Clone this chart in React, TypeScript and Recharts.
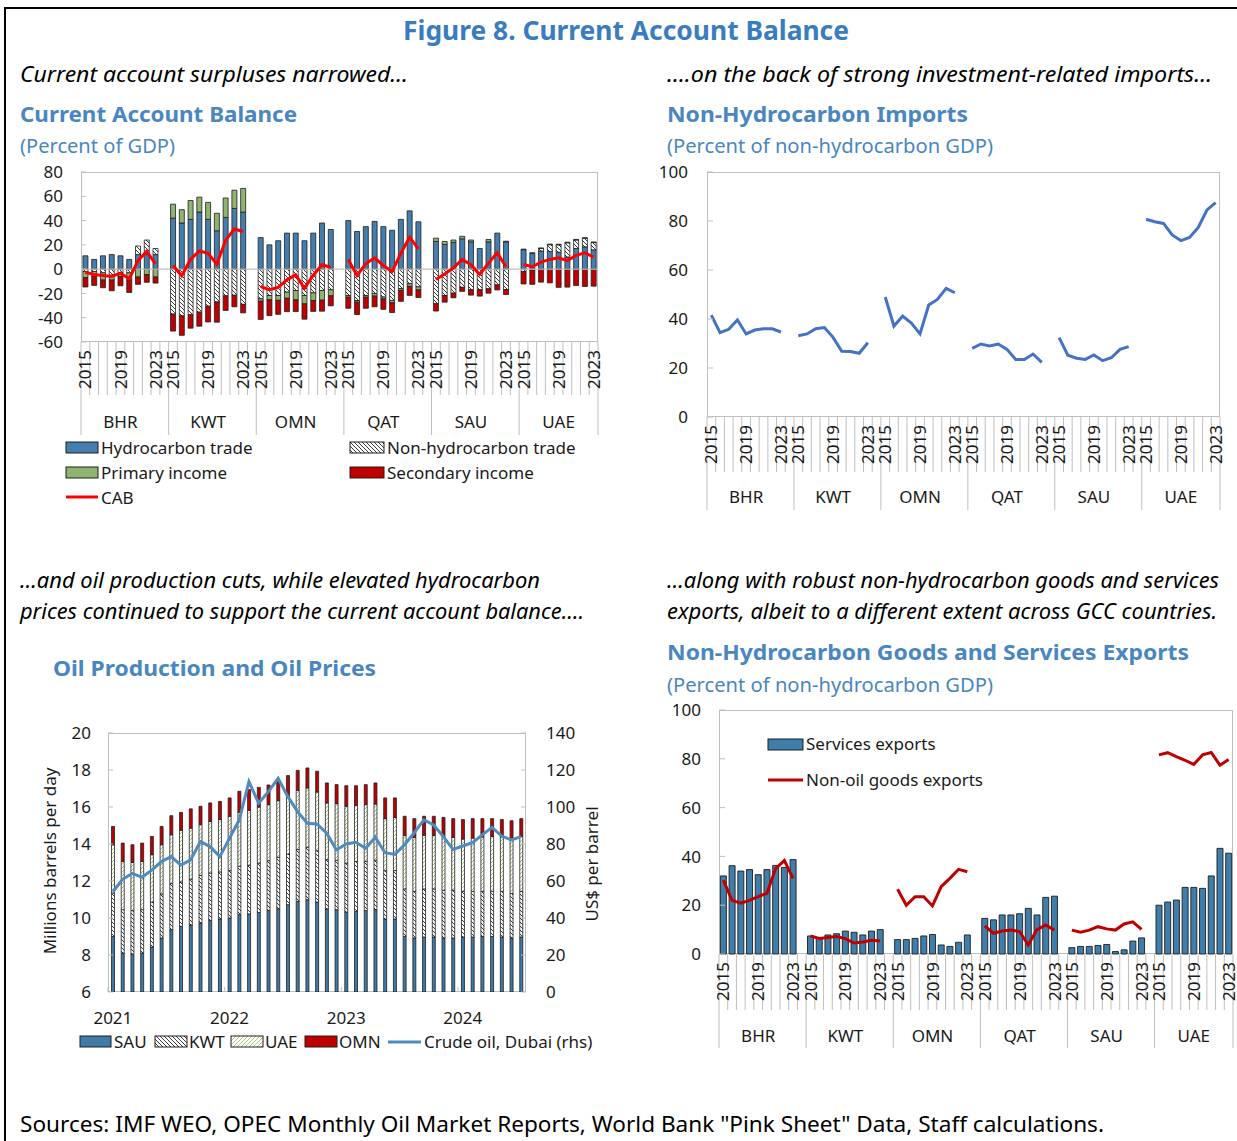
import React from 'react';
import { ComposedChart, Bar, Line, XAxis, YAxis, ReferenceLine } from 'recharts';

const FONT = "'Noto Sans', 'Open Sans', 'DejaVu Sans', sans-serif";
const AXIS_GRAY = '#bfbfbf';
const TEXT = '#1a1a1a';
const TITLE_BLUE = '#3a7cc0';
const PANEL_BLUE = '#4a86c0';

const COUNTRIES = ['BHR', 'KWT', 'OMN', 'QAT', 'SAU', 'UAE'];
const YEARS = [2015, 2016, 2017, 2018, 2019, 2020, 2021, 2022, 2023];
const LABELED_YEARS = [2015, 2019, 2023];

// ---------- Panel 1: Current account balance (percent of GDP), rows = countries, cols = 2015..2023
const hydrocarbonTrade = [
  [11, 8, 11, 12, 11, 8, 12, 12, 12],
  [42, 38, 41, 47, 41, 31.6, 42.6, 50, 47],
  [26, 20, 23.4, 29.7, 29.7, 23.4, 29.7, 38, 32.7],
  [40, 31, 35, 39.3, 35, 32, 41, 48, 39],
  [22.8, 20.3, 22, 25, 22.5, 17, 22.5, 29.7, 22.5],
  [16, 13, 15, 14.6, 14, 10, 17, 18.4, 15.9],
];
const nonHydrocarbonTrade = [
  [-2, -2, -3, -5, -3, -3, 7, 12, 5],
  [-37, -38.5, -37.6, -35.4, -30.5, -27, -22, -21.5, -29],
  [-24.4, -21.7, -21.7, -19, -17.6, -21.7, -19.5, -17.6, -17],
  [-21.7, -25.8, -21.7, -20, -23, -25.8, -16, -12, -14.6],
  [-28.5, -21.7, -19.8, -15, -17, -17, -16.2, -13, -16.8],
  [-2, -1, 2, 5.5, 6, 11.7, 7, 7, 6],
];
const primaryIncome = [
  [-5, -4, -6, -4, -3, -6, -6.5, -4.5, -6.5],
  [11.5, 11, 15.5, 12.3, 14, 14.4, 16, 15, 19.5],
  [-2, -3.6, -4, -5, -7.7, -6.9, -6.3, -8, -5],
  [-1.4, -1.4, -1.4, -2.2, -1.6, -1.9, -1.5, -2.2, -2.5],
  [2.7, 2.5, 2, 2, 1.5, 0, 1.9, 0, 0.5],
  [0.5, 0.5, 0.5, 0.5, 0.5, 0.5, 0.5, 0.5, 0.5],
];
const secondaryIncome = [
  [-7.7, -7.4, -6.3, -8.8, -7.7, -10.2, -6, -6.3, -5],
  [-14, -16, -11, -11.6, -13, -16.7, -12, -9.5, -7],
  [-15, -13, -11.5, -11, -9.6, -12.6, -9, -9, -8.2],
  [-9.1, -10.2, -9.1, -8.8, -8.5, -8, -9, -7.4, -6.3],
  [-6, -5.5, -3.8, -3.3, -4.4, -5.2, -3.6, -4.1, -4.1],
  [-10.2, -11.5, -10.7, -11.3, -15, -14.8, -13.5, -14.3, -14],
];
const currentAccountBalance = [
  [-2.5, -4.4, -5.2, -6, -3.3, -8, 7, 14.6, 4.4],
  [3, -5.5, 8, 15, 13, 4, 23.7, 33, 31],
  [-14.3, -17, -15, -8.8, -4.7, -15.7, -5, 3.6, 1.6],
  [8, -5.2, 4.4, 9.3, 3, -2, 13, 26.3, 16.7],
  [-8.5, -4, 1, 8, 3.6, -4.4, 5, 13.5, 2],
  [3.8, 2, 5.8, 8, 9.4, 7, 11.3, 13.5, 9.9],
];
const caTicks = [-60, -40, -20, 0, 20, 40, 60, 80];

// ---------- Panel 2: Non-hydrocarbon imports (percent of non-hydrocarbon GDP)
const nonHydrocarbonImports = [
  [41.6, 34.4, 35.8, 39.6, 33.9, 35.5, 36, 36, 34.7],
  [33.2, 33.9, 36, 36.5, 32.5, 26.8, 26.7, 26, 30.3],
  [49, 37.1, 41.2, 38.3, 33.9, 45.7, 48, 52.5, 50.7],
  [28, 29.8, 29, 29.8, 27.6, 23.5, 23.5, 25.7, 22.3],
  [32.4, 25.2, 24, 23.5, 25.3, 23, 24.2, 27.6, 28.7],
  [80.7, 79.7, 79, 74.3, 72, 73.3, 77.4, 84.5, 87.5],
];
const pctTicks = [0, 20, 40, 60, 80, 100];

// ---------- Panel 3: Oil production (mb/d) and oil prices (US$/bbl)
const productionMonths = [
  'Jan 2021', 'Feb 2021', 'Mar 2021', 'Apr 2021', 'May 2021', 'Jun 2021', 'Jul 2021', 'Aug 2021', 'Sep 2021', 'Oct 2021', 'Nov 2021', 'Dec 2021',
  'Jan 2022', 'Feb 2022', 'Mar 2022', 'Apr 2022', 'May 2022', 'Jun 2022', 'Jul 2022', 'Aug 2022', 'Sep 2022', 'Oct 2022', 'Nov 2022', 'Dec 2022',
  'Jan 2023', 'Feb 2023', 'Mar 2023', 'Apr 2023', 'May 2023', 'Jun 2023', 'Jul 2023', 'Aug 2023', 'Sep 2023', 'Oct 2023', 'Nov 2023', 'Dec 2023',
  'Jan 2024', 'Feb 2024', 'Mar 2024', 'Apr 2024', 'May 2024', 'Jun 2024', 'Jul 2024',
];
const sauProduction = [
  9.0, 8.1, 8.05, 8.1, 8.43, 8.92, 9.37, 9.55, 9.62, 9.73, 9.87, 9.95,
  10.0, 10.18, 10.22, 10.3, 10.41, 10.5, 10.72, 10.9, 10.99, 10.86, 10.49, 10.45,
  10.32, 10.36, 10.4, 10.45, 9.95, 9.95, 9.0, 8.92, 8.97, 8.97, 8.92, 8.92,
  8.97, 8.97, 9.0, 9.0, 8.97, 8.92, 8.97,
];
const kwtProduction = [
  2.35, 2.35, 2.35, 2.35, 2.43, 2.38, 2.49, 2.4, 2.48, 2.57, 2.56, 2.54,
  2.56, 2.62, 2.63, 2.67, 2.69, 2.78, 2.74, 2.8, 2.83, 2.78, 2.66, 2.67,
  2.65, 2.7, 2.66, 2.67, 2.61, 2.61, 2.57, 2.52, 2.6, 2.6, 2.58, 2.58,
  2.47, 2.47, 2.44, 2.44, 2.47, 2.4, 2.47,
];
const uaeProduction = [
  2.61, 2.61, 2.6, 2.61, 2.56, 2.66, 2.64, 2.79, 2.76, 2.75, 2.79, 2.83,
  2.94, 2.91, 2.97, 3.03, 3.03, 3.06, 3.08, 3.2, 3.21, 3.17, 3.07, 3.06,
  3.07, 3.03, 3.07, 3.04, 2.81, 2.88, 2.9, 2.92, 2.9, 2.9, 2.88, 2.86,
  2.83, 2.88, 2.94, 2.97, 2.94, 2.97, 2.97,
];
const omnProduction = [
  0.99, 0.99, 0.96, 0.99, 0.99, 0.99, 1.03, 0.97, 1.04, 0.99, 1.0, 0.98,
  0.99, 1.14, 1.12, 1.06, 1.06, 1.05, 1.16, 1.08, 1.08, 1.12, 1.08, 1.03,
  1.11, 1.06, 1.08, 1.14, 1.12, 1.05, 1.03, 1.01, 1.03, 1.03, 1.06, 1.01,
  1.05, 1.05, 0.99, 0.96, 0.94, 0.97, 0.96,
];
const dubaiCrudePrice = [
  54.2, 60.9, 64.1, 62, 65.9, 70.5, 73.2, 68.6, 71.4, 81.3, 78.6, 73.2,
  83.1, 93, 113.7, 102, 108.3, 115.5, 105.6, 97.5, 91.2, 90.8, 85.8, 76.8,
  80, 80.9, 77.7, 83.6, 75.3, 74.4, 79.5, 86.1, 93, 90.3, 84, 77.1,
  78.9, 80.7, 84.9, 89, 84.3, 82.2, 84,
];
const productionTicks = [6, 8, 10, 12, 14, 16, 18, 20];
const priceTicks = [0, 20, 40, 60, 80, 100, 120, 140];

// ---------- Panel 4: Non-hydrocarbon goods and services exports (percent of non-hydrocarbon GDP)
const servicesExports = [
  [32, 36.2, 34, 34.6, 32.5, 34.6, 36.3, 35.5, 38.7],
  [7.4, 6.6, 7.8, 8.3, 9.4, 8.9, 7.8, 9.4, 10],
  [5.9, 5.9, 6.4, 7.4, 8, 3.7, 3.1, 4.8, 7.8],
  [14.6, 14, 16, 16, 16.5, 18.7, 16, 23.2, 23.7],
  [2.6, 3.1, 3.1, 3.5, 3.9, 1, 1.7, 5.3, 6.6],
  [20, 21.3, 22.1, 27.3, 27.3, 26.9, 32, 43.3, 41.3],
];
const nonOilGoodsExports = [
  [30.3, 22, 20.8, 22, 23.5, 24.9, 35, 38.3, 31],
  [7.4, 6.4, 6.8, 7.2, 6.3, 4.5, 4.9, 5.6, 5.3],
  [26.5, 20, 23.5, 23.5, 19.7, 27.6, 31, 34.7, 33.7],
  [11.5, 8.5, 9.4, 9.8, 9.2, 3.7, 10, 11.9, 9.8],
  [9.8, 8.9, 9.8, 11.2, 10.3, 9.8, 12.3, 13.2, 10.1],
  [81.6, 82.5, 80.9, 79.4, 77.7, 81.6, 82.6, 77.4, 79.7],
];

// ---------- colours
const HC_BLUE = '#447eae';
const PRIMARY_GREEN = '#8fb470';
const DARK_RED = '#c00000';
const CAB_RED = '#ff0000';
const IMPORT_BLUE = '#4472c4';
const SAU_BLUE = '#3f7aa8';
const CRUDE_BLUE = '#4f8bbd';
const SERVICES_BLUE = '#3f7eab';
const BAR_STROKE = '#1e1e1e';

type Row = Record<string, any>;

function buildGroupedRows(series: Record<string, number[][]>): Row[] {
  const rows: Row[] = [];
  COUNTRIES.forEach((country, ci) => {
    YEARS.forEach((year, yi) => {
      const row: Row = { key: `${country} ${year}`, country, year, yi };
      Object.keys(series).forEach((name) => {
        row[name] = series[name][ci][yi];
      });
      rows.push(row);
    });
    if (ci < COUNTRIES.length - 1) rows.push({ key: `${country} gap`, country, gap: true });
  });
  rows.forEach((r, i) => { r.index = i; });
  rows[0].first = true;
  rows[rows.length - 1].last = true;
  return rows;
}

const caRows = buildGroupedRows({
  hydrocarbon: hydrocarbonTrade,
  nonHydrocarbon: nonHydrocarbonTrade,
  primary: primaryIncome,
  secondary: secondaryIncome,
  cab: currentAccountBalance,
});
const importRows = buildGroupedRows({ imports: nonHydrocarbonImports });
const exportRows = buildGroupedRows({ services: servicesExports, goods: nonOilGoodsExports });
const oilRows = productionMonths.map((month, i) => ({
  month,
  index: i,
  sau: sauProduction[i],
  kwt: kwtProduction[i],
  uae: uaeProduction[i],
  omn: omnProduction[i],
  dubai: dubaiCrudePrice[i],
}));

type GroupGeom = { plotLeft: number; slot: number; axisY: number; yearTop: number; shortLen: number; longLen: number; groupY: number };

function makeGroupTick(rows: Row[], g: GroupGeom) {
  const byKey: Record<string, Row> = {};
  rows.forEach((r) => { byKey[r.key] = r; });
  return (props: any) => {
    const row = byKey[props.payload.value];
    if (!row) return <g />;
    const cx = g.plotLeft + g.slot * (row.index + 0.5);
    const h = g.slot / 2;
    const isEnd = row.gap || row.last;
    const yAnchor = g.axisY + g.yearTop;
    return (
      <g>
        {row.first && (
          <line x1={cx - h} x2={cx - h} y1={g.axisY} y2={g.axisY + g.longLen} stroke={AXIS_GRAY} strokeWidth={1} />
        )}
        <line x1={cx + h} x2={cx + h} y1={g.axisY} y2={g.axisY + (isEnd ? g.longLen : g.shortLen)} stroke={AXIS_GRAY} strokeWidth={1} />
        {row.year && LABELED_YEARS.includes(row.year) && (
          <text
            x={cx}
            y={yAnchor}
            dy="0.36em"
            transform={`rotate(-90 ${cx} ${yAnchor})`}
            textAnchor="end"
            fontSize={17}
            fontFamily={FONT}
            fill={TEXT}
          >
            {row.year}
          </text>
        )}
        {row.yi === 4 && (
          <text x={cx} y={g.axisY + g.groupY} dy="0.36em" textAnchor="middle" fontSize={17} fontFamily={FONT} fill={TEXT}>
            {row.country}
          </text>
        )}
      </g>
    );
  };
}

function makeYTick(labelX: number, anchor: 'start' | 'end', tx1: number, tx2: number) {
  return (props: any) => (
    <g>
      <line x1={tx1} x2={tx2} y1={props.y} y2={props.y} stroke={AXIS_GRAY} strokeWidth={1} />
      <text x={labelX} y={props.y} dy="0.36em" textAnchor={anchor} fontSize={17} fontFamily={FONT} fill={TEXT}>
        {props.payload.value}
      </text>
    </g>
  );
}

function Frame({ left, top, width, height }: { left: number; top: number; width: number; height: number }) {
  return (
    <div
      style={{
        position: 'absolute',
        left,
        top,
        width,
        height,
        border: `1px solid ${AXIS_GRAY}`,
        boxSizing: 'border-box',
      }}
    />
  );
}

// ---------- Panel 1
function CurrentAccountChart() {
  const W = 620, H = 300, YW = 60, XH = 100;
  const margin = { top: 22, right: 22, bottom: 8, left: 21 };
  const plotLeft = margin.left + YW;
  const plotRight = W - margin.right;
  const plotBottom = H - margin.bottom - XH;
  const slot = (plotRight - plotLeft) / caRows.length;
  const xTick = makeGroupTick(caRows, { plotLeft, slot, axisY: plotBottom, yearTop: 8, shortLen: 53, longLen: 93, groupY: 80 });
  const yTick = makeYTick(63, 'end', plotLeft, plotLeft + 5);
  return (
    <div style={{ position: 'absolute', left: 0, top: 150, width: W, height: H }}>
      <Frame left={plotLeft} top={margin.top} width={plotRight - plotLeft} height={plotBottom - margin.top} />
      <ComposedChart width={W} height={H} data={caRows} margin={margin} stackOffset="sign" barCategoryGap="22%">
        <XAxis dataKey="key" type="category" interval={0} height={XH} tickLine={false} axisLine={false} tick={xTick} />
        <YAxis type="number" domain={[-60, 80]} ticks={caTicks} interval={0} width={YW} tickLine={false} axisLine={false} tick={yTick} />
        <ReferenceLine y={0} stroke={AXIS_GRAY} strokeWidth={1.2} />
        <Bar dataKey="hydrocarbon" stackId="ca" fill={HC_BLUE} stroke={BAR_STROKE} strokeWidth={0.8} isAnimationActive={false} />
        <Bar dataKey="nonHydrocarbon" stackId="ca" fill="url(#hatchBlack)" stroke={BAR_STROKE} strokeWidth={0.8} isAnimationActive={false} />
        <Bar dataKey="primary" stackId="ca" fill={PRIMARY_GREEN} stroke={BAR_STROKE} strokeWidth={0.8} isAnimationActive={false} />
        <Bar dataKey="secondary" stackId="ca" fill={DARK_RED} stroke={BAR_STROKE} strokeWidth={0.8} isAnimationActive={false} />
        <Line dataKey="cab" type="linear" stroke={CAB_RED} strokeWidth={3} dot={false} activeDot={false} connectNulls={false} isAnimationActive={false} />
      </ComposedChart>
    </div>
  );
}

// ---------- Panel 2
function ImportsChart() {
  const W = 617, H = 380, YW = 60, XH = 100;
  const margin = { top: 22, right: 17, bottom: 13, left: 27 };
  const plotLeft = margin.left + YW;
  const plotRight = W - margin.right;
  const plotBottom = H - margin.bottom - XH;
  const slot = (plotRight - plotLeft) / importRows.length;
  const xTick = makeGroupTick(importRows, { plotLeft, slot, axisY: plotBottom, yearTop: 8, shortLen: 55, longLen: 93, groupY: 80 });
  const yTick = makeYTick(68, 'end', plotLeft, plotLeft + 6);
  return (
    <div style={{ position: 'absolute', left: 620, top: 150, width: W, height: H }}>
      <Frame left={plotLeft} top={margin.top} width={plotRight - plotLeft} height={plotBottom - margin.top} />
      <ComposedChart width={W} height={H} data={importRows} margin={margin}>
        <XAxis dataKey="key" type="category" scale="band" interval={0} height={XH} tickLine={false} axisLine={false} tick={xTick} />
        <YAxis type="number" domain={[0, 100]} ticks={pctTicks} interval={0} width={YW} tickLine={false} axisLine={false} tick={yTick} />
        <Line dataKey="imports" type="linear" stroke={IMPORT_BLUE} strokeWidth={3} dot={false} activeDot={false} connectNulls={false} isAnimationActive={false} />
      </ComposedChart>
    </div>
  );
}

// ---------- Panel 3
function OilChart() {
  const W = 620, H = 330, YW = 60, XH = 40;
  const margin = { top: 23, right: 34, bottom: 8, left: 48 };
  const plotLeft = margin.left + YW;
  const plotRight = W - margin.right - YW;
  const plotBottom = H - margin.bottom - XH;
  const slot = (plotRight - plotLeft) / oilRows.length;
  const byMonth: Record<string, number> = {};
  oilRows.forEach((r) => { byMonth[r.month] = r.index; });
  const xTick = (props: any) => {
    const label: string = props.payload.value;
    const i = byMonth[label];
    if (i === undefined || !label.startsWith('Jan')) return <g />;
    const cx = plotLeft + slot * (i + 0.5);
    const bx = cx - slot / 2;
    return (
      <g>
        <line x1={bx} x2={bx} y1={plotBottom} y2={plotBottom - 5} stroke={AXIS_GRAY} strokeWidth={1} />
        <text x={cx} y={plotBottom + 26} dy="0.36em" textAnchor="middle" fontSize={17} fontFamily={FONT} fill={TEXT}>
          {label.slice(4)}
        </text>
      </g>
    );
  };
  const leftTick = makeYTick(91, 'end', plotLeft, plotLeft + 5);
  const rightTick = makeYTick(546, 'start', plotRight - 5, plotRight);
  return (
    <div style={{ position: 'absolute', left: 0, top: 710, width: W, height: H }}>
      <Frame left={plotLeft} top={margin.top} width={plotRight - plotLeft} height={plotBottom - margin.top} />
      <ComposedChart width={W} height={H} data={oilRows} margin={margin} barCategoryGap="36%">
        <XAxis dataKey="month" type="category" interval={0} height={XH} tickLine={false} axisLine={false} tick={xTick} />
        <YAxis yAxisId="left" orientation="left" type="number" domain={[6, 20]} allowDataOverflow ticks={productionTicks} interval={0} width={YW} tickLine={false} axisLine={false} tick={leftTick} />
        <YAxis yAxisId="right" orientation="right" type="number" domain={[0, 140]} ticks={priceTicks} interval={0} width={YW} tickLine={false} axisLine={false} tick={rightTick} />
        <Bar yAxisId="left" dataKey="sau" stackId="oil" fill={SAU_BLUE} stroke={BAR_STROKE} strokeWidth={0.8} isAnimationActive={false} />
        <Bar yAxisId="left" dataKey="kwt" stackId="oil" fill="url(#hatchBlack)" stroke={BAR_STROKE} strokeWidth={0.8} isAnimationActive={false} />
        <Bar yAxisId="left" dataKey="uae" stackId="oil" fill="url(#hatchGreen)" stroke={BAR_STROKE} strokeWidth={0.8} isAnimationActive={false} />
        <Bar yAxisId="left" dataKey="omn" stackId="oil" fill={DARK_RED} stroke={BAR_STROKE} strokeWidth={0.8} isAnimationActive={false} />
        <Line yAxisId="right" dataKey="dubai" type="linear" stroke={CRUDE_BLUE} strokeWidth={3} dot={false} activeDot={false} isAnimationActive={false} />
      </ComposedChart>
    </div>
  );
}

// ---------- Panel 4
function ExportsChart() {
  const W = 617, H = 380, YW = 60, XH = 100;
  const margin = { top: 20, right: 4, bottom: 16, left: 39 };
  const plotLeft = margin.left + YW;
  const plotRight = W - margin.right;
  const plotBottom = H - margin.bottom - XH;
  const slot = (plotRight - plotLeft) / exportRows.length;
  const xTick = makeGroupTick(exportRows, { plotLeft, slot, axisY: plotBottom, yearTop: 8, shortLen: 56, longLen: 94, groupY: 82 });
  const yTick = makeYTick(81, 'end', plotLeft, plotLeft + 6);
  return (
    <div style={{ position: 'absolute', left: 620, top: 690, width: W, height: H }}>
      <Frame left={plotLeft} top={margin.top} width={plotRight - plotLeft} height={plotBottom - margin.top} />
      <ComposedChart width={W} height={H} data={exportRows} margin={margin} barCategoryGap="16%">
        <XAxis dataKey="key" type="category" interval={0} height={XH} tickLine={false} axisLine={false} tick={xTick} />
        <YAxis type="number" domain={[0, 100]} ticks={pctTicks} interval={0} width={YW} tickLine={false} axisLine={false} tick={yTick} />
        <Bar dataKey="services" fill={SERVICES_BLUE} stroke={BAR_STROKE} strokeWidth={0.9} isAnimationActive={false} />
        <Line dataKey="goods" type="linear" stroke={DARK_RED} strokeWidth={3} dot={false} activeDot={false} connectNulls={false} isAnimationActive={false} />
      </ComposedChart>
    </div>
  );
}

function Patterns() {
  return (
    <svg width={0} height={0} style={{ position: 'absolute', left: 0, top: 0 }}>
      <defs>
        <pattern id="hatchBlack" patternUnits="userSpaceOnUse" width={4} height={4}>
          <rect width={4} height={4} fill="#ffffff" />
          <path d="M-1,3 L1,5 M0,0 L4,4 M3,-1 L5,1" stroke="#222222" strokeWidth={0.9} />
        </pattern>
        <pattern id="hatchGreen" patternUnits="userSpaceOnUse" width={4} height={4}>
          <rect width={4} height={4} fill="#ffffff" />
          <path d="M-1,1 L1,-1 M0,4 L4,0 M3,5 L5,3" stroke="#9cbf6a" strokeWidth={0.9} />
        </pattern>
      </defs>
    </svg>
  );
}

type TProps = {
  x: number; y: number; size: number; children: React.ReactNode;
  anchor?: 'start' | 'middle' | 'end'; weight?: number; italic?: boolean; fill?: string; len?: number;
};
function T({ x, y, size, children, anchor = 'start', weight = 400, italic = false, fill = '#000', len }: TProps) {
  return (
    <text
      x={x}
      y={y}
      dy="0.36em"
      textAnchor={anchor}
      fontSize={size}
      fontWeight={weight}
      fontStyle={italic ? 'italic' : 'normal'}
      fill={fill}
      fontFamily={FONT}
      textLength={len}
      lengthAdjust={len ? 'spacingAndGlyphs' : undefined}
    >
      {children}
    </text>
  );
}

function Swatch({ x, y, w, fill }: { x: number; y: number; w: number; fill: string }) {
  return <rect x={x} y={y} width={w} height={11} fill={fill} stroke={BAR_STROKE} strokeWidth={1} />;
}

function Overlay() {
  return (
    <svg width={1237} height={1141} style={{ position: 'absolute', left: 0, top: 0, pointerEvents: 'none' }}>
      <line x1={5} y1={8} x2={1237} y2={8} stroke="#000" strokeWidth={2} />
      <line x1={5} y1={7} x2={5} y2={1141} stroke="#000" strokeWidth={2} />

      <T x={626} y={31} size={26} weight={700} anchor="middle" fill={TITLE_BLUE} len={446}>Figure 8. Current Account Balance</T>

      <T x={20} y={74} size={22} italic len={388}>Current account surpluses narrowed…</T>
      <T x={667} y={74} size={22} italic len={545}>….on the back of strong investment-related imports…</T>
      <T x={20} y={114} size={22} weight={700} fill={PANEL_BLUE} len={277}>Current Account Balance</T>
      <T x={20} y={146} size={20} fill={PANEL_BLUE} len={155}>(Percent of GDP)</T>
      <T x={667} y={114} size={22} weight={700} fill={PANEL_BLUE} len={301}>Non-Hydrocarbon Imports</T>
      <T x={667} y={146} size={20} fill={PANEL_BLUE} len={326}>(Percent of non-hydrocarbon GDP)</T>

      <T x={20} y={580} size={22} italic len={520}>…and oil production cuts, while elevated hydrocarbon</T>
      <T x={20} y={611} size={22} italic len={564}>prices continued to support the current account balance….</T>
      <T x={53} y={668} size={22} weight={700} fill={PANEL_BLUE} len={323}>Oil Production and Oil Prices</T>

      <T x={667} y={580} size={22} italic len={552}>…along with robust non-hydrocarbon goods and services</T>
      <T x={667} y={611} size={22} italic len={550}>exports, albeit to a different extent across GCC countries.</T>
      <T x={667} y={652} size={22} weight={700} fill={PANEL_BLUE} len={522}>Non-Hydrocarbon Goods and Services Exports</T>
      <T x={667} y={685} size={20} fill={PANEL_BLUE} len={326}>(Percent of non-hydrocarbon GDP)</T>

      <T x={20} y={1124} size={21} len={1084}>Sources: IMF WEO, OPEC Monthly Oil Market Reports, World Bank "Pink Sheet" Data, Staff calculations.</T>

      {/* Panel 1 legend */}
      <Swatch x={66} y={442} w={32} fill={HC_BLUE} />
      <T x={101} y={448} size={17} fill={TEXT}>Hydrocarbon trade</T>
      <Swatch x={350} y={442} w={34} fill="url(#hatchBlack)" />
      <T x={387} y={448} size={17} fill={TEXT}>Non-hydrocarbon trade</T>
      <Swatch x={66} y={467} w={32} fill={PRIMARY_GREEN} />
      <T x={101} y={473} size={17} fill={TEXT}>Primary income</T>
      <Swatch x={350} y={467} w={34} fill={DARK_RED} />
      <T x={387} y={473} size={17} fill={TEXT}>Secondary income</T>
      <line x1={66} x2={98} y1={497} y2={497} stroke={CAB_RED} strokeWidth={3} />
      <T x={101} y={498} size={17} fill={TEXT}>CAB</T>

      {/* Panel 3 axis titles and legend */}
      <text x={50} y={861} dy="0.36em" transform="rotate(-90 50 861)" textAnchor="middle" fontSize={17} fontFamily={FONT} fill={TEXT}>Millions barrels per day</text>
      <text x={592} y={864} dy="0.36em" transform="rotate(-90 592 864)" textAnchor="middle" fontSize={17} fontFamily={FONT} fill={TEXT}>US$ per barrel</text>
      <Swatch x={80} y={1036} w={31} fill={SAU_BLUE} />
      <T x={114} y={1042} size={17} fill={TEXT}>SAU</T>
      <Swatch x={155} y={1036} w={32} fill="url(#hatchBlack)" />
      <T x={189} y={1042} size={17} fill={TEXT}>KWT</T>
      <Swatch x={231} y={1036} w={32} fill="url(#hatchGreen)" />
      <T x={265} y={1042} size={17} fill={TEXT}>UAE</T>
      <Swatch x={305} y={1036} w={32} fill={DARK_RED} />
      <T x={339} y={1042} size={17} fill={TEXT}>OMN</T>
      <line x1={388} x2={421} y1={1042} y2={1042} stroke={CRUDE_BLUE} strokeWidth={3} />
      <T x={424} y={1042} size={17} fill={TEXT}>Crude oil, Dubai (rhs)</T>

      {/* Panel 4 legend */}
      <Swatch x={768} y={739} w={35} fill={SERVICES_BLUE} />
      <T x={806} y={744} size={17} fill={TEXT}>Services exports</T>
      <line x1={768} x2={803} y1={780} y2={780} stroke={DARK_RED} strokeWidth={3} />
      <T x={806} y={780} size={17} fill={TEXT}>Non-oil goods exports</T>
    </svg>
  );
}

export default function App() {
  return (
    <div style={{ position: 'absolute', left: 0, top: 0, width: 1237, height: 1141, background: '#ffffff', fontFamily: FONT, overflow: 'hidden' }}>
      <Patterns />
      <CurrentAccountChart />
      <ImportsChart />
      <OilChart />
      <ExportsChart />
      <Overlay />
    </div>
  );
}
